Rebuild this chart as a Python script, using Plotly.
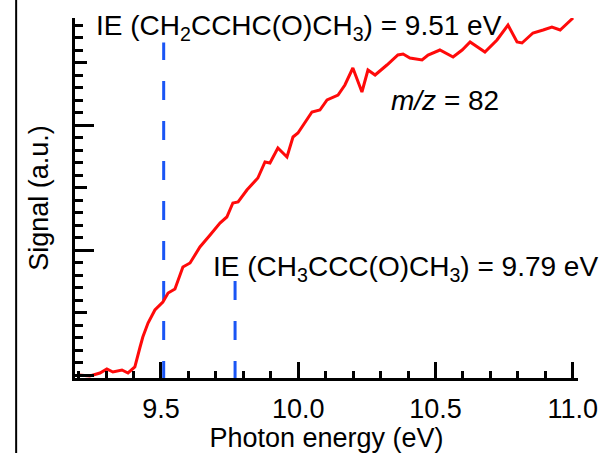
import plotly.graph_objects as go

# ---- data ----
photon_energy = [9.201, 9.241, 9.278, 9.303, 9.325, 9.358, 9.380, 9.405, 9.424, 9.434,
                 9.453, 9.478, 9.507, 9.526, 9.551, 9.580, 9.606, 9.642, 9.679, 9.715,
                 9.740, 9.762, 9.781, 9.813, 9.853, 9.879, 9.897, 9.926, 9.959, 9.981,
                 9.999, 10.025, 10.050, 10.079, 10.105, 10.145, 10.170, 10.199, 10.232, 10.254,
                 10.280, 10.323, 10.363, 10.382, 10.407, 10.451, 10.473, 10.516, 10.564, 10.597,
                 10.626, 10.680, 10.724, 10.764, 10.797, 10.815, 10.855, 10.892, 10.924, 10.954,
                 11.001]
signal = [0.000, -0.008, 0.016, 0.048, 0.024, 0.040, 0.016, 0.064, 0.224, 0.304,
          0.416, 0.520, 0.584, 0.656, 0.688, 0.864, 0.896, 1.024, 1.120, 1.216,
          1.264, 1.376, 1.384, 1.480, 1.576, 1.704, 1.696, 1.816, 1.744, 1.904,
          1.936, 2.024, 2.104, 2.120, 2.200, 2.240, 2.320, 2.456, 2.264, 2.440,
          2.400, 2.480, 2.560, 2.568, 2.536, 2.520, 2.560, 2.600, 2.544, 2.600,
          2.664, 2.584, 2.680, 2.800, 2.664, 2.656, 2.736, 2.760, 2.784, 2.760,
          2.856]

ie_energies = [9.51, 9.77]          # where the dashed IE markers are drawn
ie_line_tops = [2.66, 0.76]         # upper end of each dashed marker (signal units)
ie_labels = ["IE (CH<sub>2</sub>CCHC(O)CH<sub>3</sub>) = 9.51 eV",
             "IE (CH<sub>3</sub>CCC(O)CH<sub>3</sub>) = 9.79 eV"]
mass_label = "<i>m/z</i> = 82"

x_ticks = [9.5, 10.0, 10.5, 11.0]
x_range = [9.187, 11.019]
y_range = [-0.024, 2.856]

FONT = "Liberation Sans, Arial, Helvetica, sans-serif"
RED = "#ff0a0a"
BLUE = "#1a55f5"

fig = go.Figure()

for xv, top in zip(ie_energies, ie_line_tops):
    fig.add_trace(go.Scatter(x=[xv, xv], y=[-0.04, top], mode="lines",
                             line=dict(color=BLUE, width=3, dash="19px,21px"),
                             hoverinfo="skip", showlegend=False))

fig.add_trace(go.Scatter(x=photon_energy, y=signal, mode="lines",
                         line=dict(color=RED, width=3), showlegend=False))

# extra-long ticks at integer signal units via an overlaying axis
fig.add_trace(go.Scatter(x=[None], y=[None], yaxis="y2", showlegend=False))

fig.update_layout(
    width=599, height=453,
    margin=dict(l=75, r=21, t=18, b=75, autoexpand=False),
    paper_bgcolor="white", plot_bgcolor="white",
    font=dict(family=FONT, color="black", size=27),
    xaxis=dict(range=x_range, tickvals=x_ticks, ticktext=[f"{v:.1f}" for v in x_ticks],
               automargin=False,
               showline=True, linewidth=3, linecolor="black", mirror=False,
               ticks="inside", ticklen=16, tickwidth=2.5, tickcolor="black",
               showgrid=False, zeroline=False,
               tickfont=dict(size=27), ticklabelstandoff=5,
               minor=dict(dtick=0.1, tick0=9.0, ticks="inside", ticklen=7,
                          tickwidth=2.5, tickcolor="black", showgrid=False),
               title=dict(text="Photon energy (eV)", font=dict(size=27), standoff=14)),
    yaxis=dict(range=y_range, dtick=0.5, tick0=0, automargin=False,
               showline=True, linewidth=3, linecolor="black", mirror=False,
               ticks="inside", ticklen=12, tickwidth=2.5, tickcolor="black",
               showticklabels=False, showgrid=False, zeroline=False,
               minor=dict(dtick=0.1, tick0=0, ticks="inside", ticklen=8,
                          tickwidth=2.5, tickcolor="black", showgrid=False),
               title=dict(text="Signal (a.u.)", font=dict(size=27), standoff=16)),
    yaxis2=dict(range=y_range, overlaying="y", anchor="x", side="left",
                automargin=False,
                dtick=1, tick0=0, ticks="inside", ticklen=19, tickwidth=2.5,
                tickcolor="black", showticklabels=False, showline=False,
                showgrid=False, zeroline=False),
    showlegend=False,
)

fig.add_annotation(text=ie_labels[0], xref="paper", yref="paper",
                   x=0.038, y=0.975, xanchor="left", yanchor="middle",
                   showarrow=False, font=dict(size=28))
fig.add_annotation(text=ie_labels[1], xref="paper", yref="paper",
                   x=0.270, y=0.305, xanchor="left", yanchor="middle",
                   showarrow=False, font=dict(size=28))
fig.add_annotation(text=mass_label, xref="paper", yref="paper",
                   x=0.624, y=0.772, xanchor="left", yanchor="middle",
                   showarrow=False, font=dict(size=28))

# thin frame line at the far left of the figure
fig.add_shape(type="line", xref="paper", yref="paper",
              x0=-0.117, x1=-0.117, y0=-0.25, y1=1.1,
              line=dict(color="black", width=2))

fig.write_html("out.html")
